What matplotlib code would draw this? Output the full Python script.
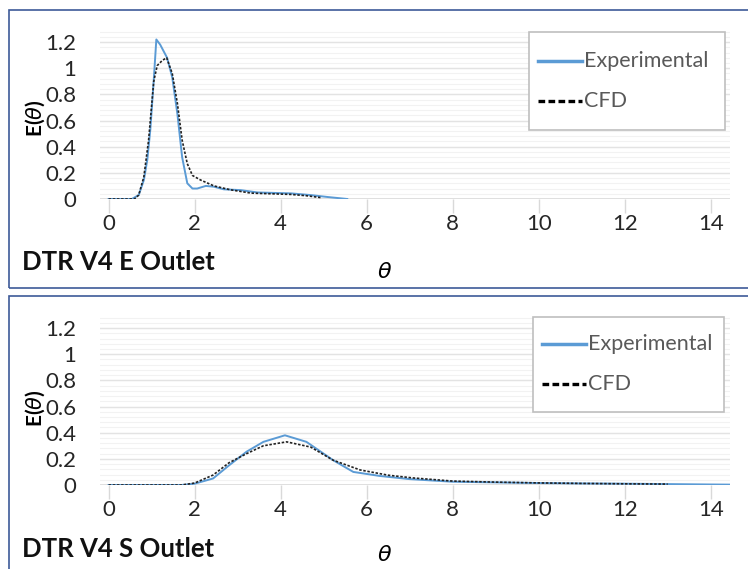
import matplotlib.pyplot as plt
from matplotlib.patches import Rectangle
from matplotlib.lines import Line2D
import numpy as np

plt.rcParams['font.family'] = ['Lato', 'DejaVu Sans']

# --- data ---
e_exp_theta = [0.0, 0.3, 0.54, 0.7, 0.82, 0.9, 0.97, 1.05, 1.11, 1.2, 1.36, 1.48, 1.6, 1.71, 1.83,
               1.95, 2.06, 2.26, 2.45, 2.68, 3.07, 3.46, 4.24, 4.7, 5.1, 5.55]
e_exp_val = [0.0, 0.0, 0.0, 0.03, 0.145, 0.3, 0.53, 0.91, 1.22, 1.18, 1.08, 0.93, 0.65, 0.32, 0.12,
             0.08, 0.08, 0.10, 0.094, 0.074, 0.068, 0.05, 0.043, 0.03, 0.015, 0.0]
e_cfd_theta = [0.0, 0.3, 0.6, 0.7, 0.82, 0.93, 1.05, 1.13, 1.25, 1.35, 1.48, 1.6, 1.71, 1.83,
               1.95, 2.14, 2.45, 2.84, 3.31, 4.24, 4.6, 4.95]
e_cfd_val = [0.0, 0.0, 0.0, 0.03, 0.17, 0.45, 0.9, 1.02, 1.06, 1.08, 0.96, 0.73, 0.45, 0.27,
             0.18, 0.145, 0.10, 0.07, 0.045, 0.035, 0.025, 0.01]

s_exp_theta = [0.0, 1.0, 1.7, 2.0, 2.43, 2.8, 3.21, 3.6, 4.1, 4.6, 5.22, 5.69, 6.31, 7.0, 8.0,
               9.0, 10.0, 11.0, 12.0, 13.0, 14.0, 14.45]
s_exp_val = [0.0, 0.0, 0.0, 0.01, 0.05, 0.15, 0.255, 0.33, 0.38, 0.33, 0.19, 0.10, 0.069,
             0.045, 0.025, 0.02, 0.015, 0.012, 0.01, 0.007, 0.004, 0.003]
s_cfd_theta = [0.0, 1.0, 1.7, 2.0, 2.43, 2.8, 3.21, 3.6, 4.14, 4.7, 5.22, 5.85, 6.5, 7.08,
               8.0, 9.0, 10.0, 11.0, 12.0, 13.0]
s_cfd_val = [0.0, 0.0, 0.0, 0.015, 0.076, 0.17, 0.24, 0.30, 0.33, 0.29, 0.19, 0.115, 0.075,
             0.054, 0.03, 0.022, 0.016, 0.012, 0.009, 0.007]

series_labels = ["Experimental", "CFD"]

panels = [
    ("DTR V4 E Outlet", e_exp_theta, e_exp_val, e_cfd_theta, e_cfd_val),
    ("DTR V4 S Outlet", s_exp_theta, s_exp_val, s_cfd_theta, s_cfd_val),
]

W, H = 748, 569
fig = plt.figure(figsize=(W / 100, H / 100), dpi=100)


def fx(px):
    return px / W


def fy(py):
    return 1 - py / H


# panel layout in pixels
layout = [
    dict(top=10, bottom=288, y0=199, y13=29, leg=(529, 32, 725, 130), rows=(61, 101),
         title_y=262, theta_y=272, ylab_y=118),
    dict(top=296, bottom=590, y0=485, y13=315, leg=(533, 317, 724, 412), rows=(344, 384),
         title_y=549, theta_y=555, ylab_y=408),
]

blue = "#5B9BD5"
text_gray = "#595959"
styles = [dict(color=blue, linewidth=2.5, linestyle="-"),
          dict(color="black", linewidth=2.4, linestyle=(0, (2, 1)))]

for (title, ex, ey, cx, cy), lay in zip(panels, layout):
    # panel border
    fig.patches.append(Rectangle((fx(9), fy(lay["bottom"])), fx(760) - fx(9),
                                 fy(lay["top"]) - fy(lay["bottom"]),
                                 transform=fig.transFigure, fill=False,
                                 edgecolor="#3D5A98", linewidth=1.2))

    ax = fig.add_axes([fx(100), fy(lay["y0"]), fx(730) - fx(100), fy(lay["y13"]) - fy(lay["y0"])])
    ax.set_xlim(-0.2, 14.45)
    ax.set_ylim(0, 1.3)

    # gridlines
    for v in np.arange(0, 1.31, 0.04):
        ax.axhline(v, color="#f2f2f2", linewidth=0.8, zorder=0)
    for v in np.arange(0.2, 1.21, 0.2):
        ax.axhline(v, color="#e3e3e3", linewidth=1.0, zorder=0)
    ax.axhline(0, color="#d9d9d9", linewidth=1.2, zorder=1)

    ax.plot(ex, ey, color=blue, linewidth=1.4, zorder=3)
    ax.plot(cx, cy, color="#222222", linestyle=(0, (1.5, 1)), linewidth=1.2, zorder=4)

    for s in ax.spines.values():
        s.set_visible(False)
    ax.set_yticks(np.arange(0, 1.21, 0.2))
    ax.set_yticklabels(["0", "0.2", "0.4", "0.6", "0.8", "1", "1.2"])
    ax.set_xticks(range(0, 15, 2))
    ax.tick_params(axis="y", length=0, labelsize=16, pad=17, labelcolor="#262626")
    ax.tick_params(axis="x", length=10, width=1.0, color="#d9d9d9", direction="out",
                   labelsize=16, pad=1, labelcolor="#262626")
    ax.patch.set_alpha(0)

    fig.text(fx(35), fy(lay["ylab_y"]), r"E($\theta$)", fontsize=15, fontweight="bold",
             rotation=90, ha="center", va="center")
    fig.text(fx(22), fy(lay["title_y"]), title, fontsize=18.5, fontweight="bold",
             ha="left", va="center", color="#111111")
    fig.text(fx(385), fy(lay["theta_y"]), r"$\theta$", fontsize=16, ha="center", va="center")

    # legend box drawn by hand
    l, t, r, b = lay["leg"]
    fig.patches.append(Rectangle((fx(l), fy(b)), fx(r) - fx(l), fy(t) - fy(b),
                                 transform=fig.transFigure, facecolor="white",
                                 edgecolor="#bfbfbf", linewidth=1.2, zorder=5))
    for row_y, label, st in zip(lay["rows"], series_labels, styles):
        fig.add_artist(Line2D([fx(l + 9), fx(l + 53)], [fy(row_y), fy(row_y)],
                              transform=fig.transFigure, zorder=6, **st))
        fig.text(fx(l + 55), fy(row_y), label, fontsize=15.5, color=text_gray,
                 ha="left", va="center", zorder=6)

fig.savefig("out.png", dpi=100)
